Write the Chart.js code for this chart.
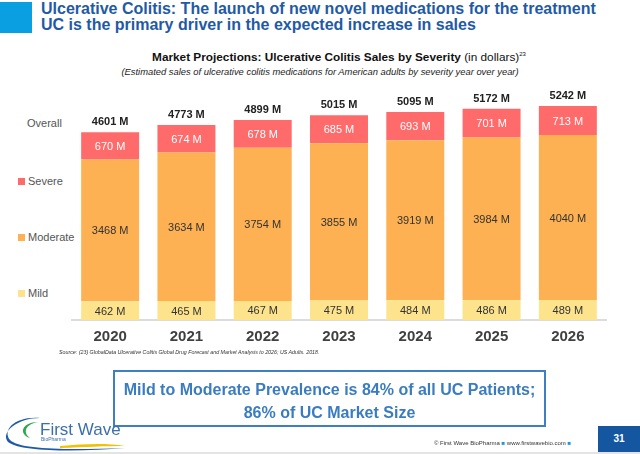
<!DOCTYPE html>
<html>
<head>
<meta charset="utf-8">
<script src="https://cdn.jsdelivr.net/npm/chart.js@4.4.1/dist/chart.umd.min.js"></script>
<style>
  body { margin: 0; width: 640px; height: 454px; overflow: hidden; background: #fff; font-family: "Liberation Sans", Arial, sans-serif; position: relative; }
  .abs { position: absolute; white-space: nowrap; }
  #chart { position: absolute; left: 0; top: 0; }
  .head { left: 41px; color: #1f5aa6; font-weight: bold; font-size: 16px; }
  .leg { left: 18px; font-size: 11px; color: #555; line-height: 12px; }
  .leg span { display: inline-block; width: 7px; height: 7px; margin-right: 3px; vertical-align: 0px; }
</style>
</head>
<body>
<div class="abs" style="left:0;top:2px;width:32px;height:31px;background:#0a9fe0"></div>
<div class="abs head" style="top:0px">Ulcerative Colitis: The launch of new novel medications for the treatment</div>
<div class="abs head" style="top:16px">UC is the primary driver in the expected increase in sales</div>

<div class="abs" style="left:0;width:640px;top:50px;text-align:center;font-size:11.8px;color:#111;padding-left:38px;box-sizing:border-box">
  <b>Market Projections: Ulcerative Colitis Sales by Severity</b> (in dollars)<sup style="font-size:6px">23</sup>
</div>
<div class="abs" style="left:0;width:640px;top:66px;text-align:center;font-size:9.4px;font-style:italic;color:#222">
  (Estimated sales of ulcerative colitis medications for American adults by severity year over year)
</div>

<div id="legend"></div>

<canvas id="chart" width="640" height="454"></canvas>

<div class="abs" style="left:59px;top:349px;font-size:5.3px;font-style:italic;color:#333">Source: (23) GlobalData Ulcerative Colitis Global Drug Forecast and Market Analysis to 2026; US Adults. 2018.</div>

<div class="abs" style="left:113px;top:370px;width:433px;height:57px;border:2px solid #3d7fc0;text-align:center;color:#3a7cc0;font-weight:bold;font-size:16px;line-height:23px;padding-top:6px;box-sizing:border-box">
  Mild to Moderate Prevalence is 84% of all UC Patients;<br>86% of UC Market Size
</div>

<svg class="abs" style="left:0;top:410px" width="140" height="44">
  <path d="M40 8 C 15 6, 2 20, 10 30 C 20 40, 70 40, 125 38 C 80 42, 20 42, 8 32 C 0 22, 18 8, 40 8 Z" fill="#1e5aa8"/>
  <path d="M38 12 C 22 12, 18 24, 30 28 C 22 22, 26 14, 38 12 Z" fill="#2aa84a"/>
  <path d="M60 36 C 85 34, 105 33, 125 36 C 105 36, 85 37, 60 38 Z" fill="#f2c200"/>
  <text x="40" y="25" font-size="17" fill="#3d6fae" font-family="Liberation Sans, Arial">First Wave</text>
  <text x="41" y="31" font-size="5" fill="#3d6fae" font-family="Liberation Sans, Arial">BioPharma</text>
</svg>

<div class="abs" style="left:434px;top:440px;font-size:6px;color:#333">© First Wave BioPharma <span style="color:#1a9ad6">■</span> www.firstwavebio.com <span style="color:#1a9ad6">■</span></div>
<div class="abs" style="left:598px;top:426px;width:42px;height:26px;background:#1457a0;color:#fff;font-weight:bold;font-size:10px;text-align:center;line-height:26px">31</div>
<div class="abs" style="left:0;top:452px;width:640px;height:2px;background:#e4e4e4"></div>

<script>
const years = ["2020", "2021", "2022", "2023", "2024", "2025", "2026"];
const mild = [462, 465, 467, 475, 484, 486, 489];
const moderate = [3468, 3634, 3754, 3855, 3919, 3984, 4040];
const severe = [670, 674, 678, 685, 693, 701, 713];
const overall = [4601, 4773, 4899, 5015, 5095, 5172, 5242];
const seriesNames = ["Mild", "Moderate", "Severe"];

const colors = ["#fee38d", "#fdb152", "#ff6b6b"];
const labelColors = ["#333", "#333", "#fff"];

// legend on the left, top to bottom
const legendRows = [["Overall", null, 123], ["Severe", colors[2], 181], ["Moderate", colors[1], 237], ["Mild", colors[0], 293]];
let lg = "";
legendRows.forEach(r => {
  const left = r[1] ? 18 : 27;
  lg += '<div class="abs leg" style="left:' + left + 'px;top:' + (r[2] - 6) + 'px">' +
    (r[1] ? '<span style="background:' + r[1] + '"></span>' : '') + r[0] + '</div>';
});
document.getElementById("legend").innerHTML = lg;

const valueLabels = {
  id: "valueLabels",
  afterDatasetsDraw(chart) {
    const ctx = chart.ctx;
    ctx.save();
    ctx.textAlign = "center";
    ctx.textBaseline = "middle";
    chart.data.datasets.forEach((ds, i) => {
      const meta = chart.getDatasetMeta(i);
      ctx.font = "11px 'Liberation Sans', Arial";
      ctx.fillStyle = labelColors[i];
      meta.data.forEach((bar, j) => {
        ctx.fillText(ds.data[j] + " M", bar.x, (bar.y + bar.base) / 2 + 1);
      });
    });
    const top = chart.getDatasetMeta(2);
    ctx.font = "bold 11px 'Liberation Sans', Arial";
    ctx.fillStyle = "#222";
    top.data.forEach((bar, j) => {
      ctx.fillText(overall[j] + " M", bar.x, bar.y - 10);
    });
    ctx.restore();
  }
};

new Chart("chart", {
  type: "bar",
  data: {
    labels: years,
    datasets: [
      { label: seriesNames[0], data: mild, backgroundColor: colors[0] },
      { label: seriesNames[1], data: moderate, backgroundColor: colors[1] },
      { label: seriesNames[2], data: severe, backgroundColor: colors[2] }
    ]
  },
  options: {
    responsive: false,
    animation: false,
    devicePixelRatio: 1,
    layout: { padding: { left: 72, right: 34, top: 75, bottom: 104 } },
    datasets: { bar: { categoryPercentage: 1, barPercentage: 0.76 } },
    plugins: { legend: { display: false }, tooltip: { enabled: false } },
    scales: {
      x: {
        stacked: true,
        grid: { display: false, drawTicks: false },
        border: { display: true, color: "#dcdcdc", width: 2 },
        ticks: { color: "#404040", padding: 8, font: { family: "'Liberation Sans', Arial", size: 15, weight: "bold" } },
        afterFit(axis) { axis.height = 30; }
      },
      y: { stacked: true, display: false, min: 0, max: 6000 }
    }
  },
  plugins: [valueLabels]
});
</script>
</body>
</html>
